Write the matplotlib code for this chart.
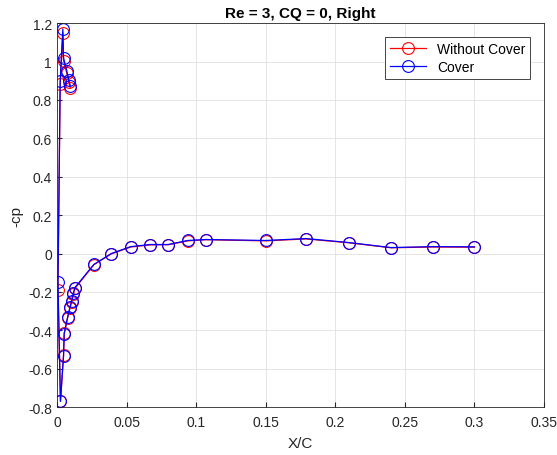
import matplotlib.pyplot as plt

plt.rcParams["font.family"] = ["Liberation Sans", "DejaVu Sans"]

# x/c and -cp, ordered along the taps
xc = [0.300, 0.270, 0.240, 0.210, 0.179, 0.150, 0.107, 0.094, 0.080, 0.067,
      0.053, 0.039, 0.0265, 0.0129, 0.0117, 0.0105, 0.0093, 0.0076, 0.0052,
      0.0047, 0.0025, 0.0007, 0.0023, 0.0042, 0.0047, 0.0071, 0.0085, 0.0095]
cp_cover = [0.035, 0.036, 0.031, 0.057, 0.078, 0.068, 0.073, 0.068, 0.047, 0.047,
            0.036, 0.000, -0.057, -0.177, -0.208, -0.248, -0.281, -0.333, -0.417,
            -0.535, -0.770, -0.146, 0.898, 1.170, 1.020, 0.950, 0.905, 0.875]
cp_nocover = [0.033, 0.034, 0.030, 0.056, 0.076, 0.066, 0.072, 0.066, 0.046, 0.045,
              0.034, -0.002, -0.058, -0.182, -0.213, -0.252, -0.285, -0.336, -0.415,
              -0.530, -0.768, -0.188, 0.885, 1.150, 1.005, 0.938, 0.892, 0.862]

fig = plt.figure(figsize=(5.57, 4.56), dpi=100)
ax = fig.add_axes([0.1023, 0.105, 0.8744, 0.842])

ax.plot(xc, cp_nocover, "-o", color="red", lw=0.9, mfc="none", ms=8.5,
        mew=0.8, label="Without Cover")
ax.plot(xc, cp_cover, "-o", color="blue", lw=0.9, mfc="none", ms=8.5,
        mew=0.8, label="Cover")

ax.set_xlim(0, 0.35)
ax.set_ylim(-0.8, 1.2)
ax.set_xticks([0, 0.05, 0.1, 0.15, 0.2, 0.25, 0.3, 0.35])
ax.set_xticklabels(["0", "0.05", "0.1", "0.15", "0.2", "0.25", "0.3", "0.35"])
ax.set_yticks([-0.8, -0.6, -0.4, -0.2, 0, 0.2, 0.4, 0.6, 0.8, 1, 1.2])
ax.set_yticklabels(["-0.8", "-0.6", "-0.4", "-0.2", "0", "0.2", "0.4", "0.6", "0.8", "1", "1.2"])
ax.grid(True, color="#e0e0e0", lw=0.6)
ax.set_axisbelow(True)
ax.tick_params(direction="in", labelsize=10, colors="#262626", length=3.5, top=False, right=False)
ax.tick_params(axis="x", pad=6)
for s in ax.spines.values():
    s.set_color("#262626")
    s.set_linewidth(0.6)

ax.set_xlabel("X/C", fontsize=11, color="#262626")
ax.set_ylabel("-cp", fontsize=11, color="#262626")
ax.xaxis.set_label_coords(0.5, -0.075)
ax.yaxis.set_label_coords(-0.07, 0.5)
ax.set_title("Re = 3, CQ = 0, Right", fontsize=11, fontweight="bold", pad=4.5)

leg = ax.legend(loc="upper right", fontsize=10, fancybox=False, framealpha=1,
                edgecolor="#262626", borderaxespad=1.0, handlelength=2.6,
                borderpad=0.35, labelspacing=0.3)
leg.get_frame().set_linewidth(0.6)

fig.savefig("out.png", dpi=100)
